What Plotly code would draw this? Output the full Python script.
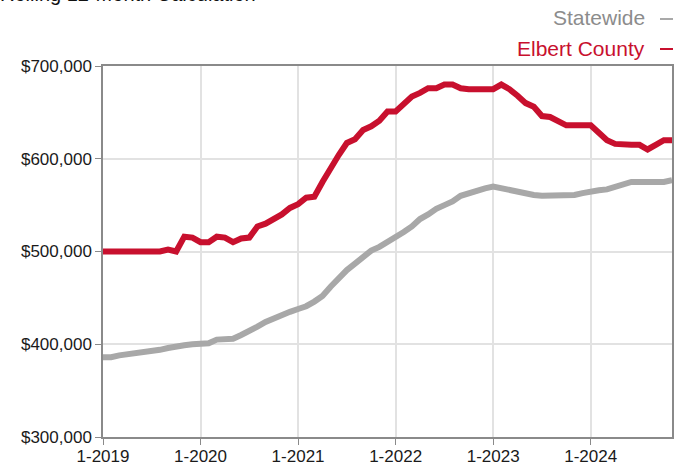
import plotly.graph_objects as go

months = list(range(71))  # Jan 2019 .. Nov 2024, monthly index
tick_months = [0, 12, 24, 36, 48, 60]
tick_labels = ["1-2019", "1-2020", "1-2021", "1-2022", "1-2023", "1-2024"]

y_ticks = [300000, 400000, 500000, 600000, 700000]
y_tick_labels = ["$300,000", "$400,000", "$500,000", "$600,000", "$700,000"]

statewide = [
    386000, 386000, 388000, 389000, 390000, 391000, 392000, 394000, 396000, 398000,
    399000, 400000, 400000, 401000, 405000, 405000, 406000, 410000, 414000, 419000,
    424000, 428000, 431000, 435000, 438000, 441000, 446000, 452000, 462000, 472000,
    480000, 487000, 494000, 501000, 505000, 510000, 515000, 521000, 527000, 535000,
    540000, 546000, 550000, 554000, 560000, 563000, 566000, 568000, 570000, 568000,
    566000, 564000, 562000, 561000, 560000, 560000, 561000, 561000, 561000, 563000,
    565000, 566000, 567000, 570000, 572000, 575000, 575000, 575000, 575000, 575000,
    577000,
]

elbert = [
    500000, 500000, 500000, 500000, 500000, 500000, 500000, 500000, 502000, 500000,
    516000, 515000, 510000, 510000, 516000, 515000, 510000, 514000, 515000, 527000,
    530000, 535000, 540000, 547000, 551000, 558000, 559000, 575000, 591000, 604000,
    617000, 621000, 631000, 635000, 641000, 651000, 651000, 658000, 667000, 671000,
    676000, 676000, 680000, 680000, 676000, 675000, 675000, 676000, 675000, 680000,
    675000, 668000, 660000, 656000, 646000, 645000, 640000, 636000, 636000, 636000,
    636000, 628000, 620000, 616000, 615000, 615000, 615000, 610000, 615000, 620000,
    620000,
]

RED = "#c8102e"
GRAY = "#a8a8a8"
LEG_GRAY = "#8c8c8c"
FONT = "Liberation Sans, Arial, sans-serif"

W, H = 674, 466
L, R, T, B = 103, 2, 66, 29
PW = W - L - R
PH = H - T - B

def px_x(page_x):
    return (page_x - L) / PW

def px_y(page_y):
    return (H - B - page_y) / PH

fig = go.Figure()
fig.add_trace(go.Scatter(x=months, y=statewide, mode="lines", name="Statewide",
                         line=dict(color=GRAY, width=6), showlegend=False))
fig.add_trace(go.Scatter(x=months, y=elbert, mode="lines", name="Elbert County",
                         line=dict(color=RED, width=6), showlegend=False))

axis_common = dict(
    showgrid=True, gridcolor="#e2e2e2", gridwidth=1.5,
    showline=True, linecolor="#8a8a8a", linewidth=1.5, mirror=True,
    ticks="outside", ticklen=6, tickcolor="#8a8a8a", zeroline=False,
    automargin=False,
)

fig.update_layout(
    width=W, height=H,
    margin=dict(l=L, r=R, t=T, b=B),
    paper_bgcolor="white", plot_bgcolor="white",
    font=dict(family=FONT, size=17, color="#1a1a1a"),
    xaxis=dict(range=[0, 70], tickvals=tick_months, ticktext=tick_labels,
               ticklabelstandoff=-3, **axis_common),
    yaxis=dict(range=[300000, 700000], tickvals=y_ticks, ticktext=y_tick_labels, **axis_common),
    annotations=[
        dict(text="Rolling 12-Month Calculation", xref="paper", yref="paper",
             x=px_x(-2), y=px_y(7), xanchor="left", yanchor="bottom",
             showarrow=False, font=dict(size=20, color="#111", family=FONT)),
        dict(text="Statewide", xref="paper", yref="paper",
             x=px_x(647), y=px_y(18), xanchor="right", yanchor="middle",
             showarrow=False, font=dict(size=21, color=LEG_GRAY, family=FONT)),
        dict(text="Elbert County", xref="paper", yref="paper",
             x=px_x(647), y=px_y(48), xanchor="right", yanchor="middle",
             showarrow=False, font=dict(size=21, color=RED, family=FONT)),
    ],
    shapes=[
        dict(type="line", xref="paper", yref="paper", x0=px_x(660), x1=px_x(673),
             y0=px_y(19), y1=px_y(19), line=dict(color=LEG_GRAY, width=1.5)),
        dict(type="line", xref="paper", yref="paper", x0=px_x(660), x1=px_x(673),
             y0=px_y(49), y1=px_y(49), line=dict(color=RED, width=2)),
    ],
)

fig.write_html(
    "out.html",
    config={"displayModeBar": False},
    post_script="document.body.style.margin='0';document.body.style.overflow='hidden';",
)
